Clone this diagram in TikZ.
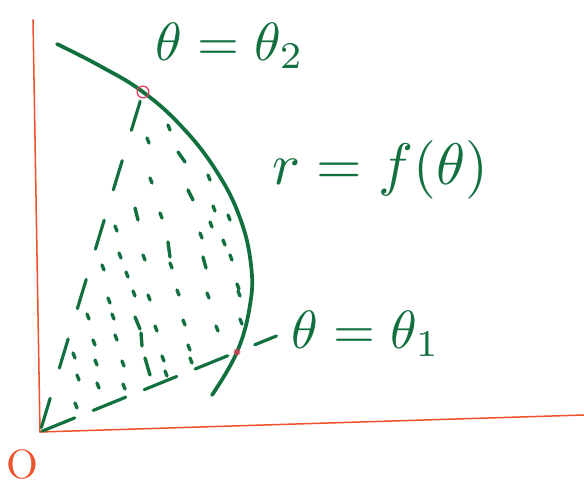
\documentclass[tikz,border=0pt]{standalone}
\usepackage{amsmath}
\usepackage{xcolor}
\usetikzlibrary{arrows.meta,calc,positioning}
\definecolor{penGreen}{RGB}{18,112,62}
\definecolor{axisRed}{RGB}{236,82,44}
\definecolor{markPink}{RGB}{226,62,92}

\begin{document}
\begin{tikzpicture}[x=0.03cm,y=-0.03cm,line cap=round,line join=round,
    axis/.style={axisRed,line width=1.3pt},
    curve/.style={penGreen,line width=3.2pt},
    ray/.style={penGreen,line width=2.7pt},
    speck/.style={penGreen,line width=2.9pt},
    hand/.style={penGreen,inner sep=0pt}]
    \useasboundingbox (0,0) rectangle (584,486);
    % ============ Axes ============
    \coordinate (O)    at (40,432);
    \coordinate (Ytop) at (33,20);
    \coordinate (Xend) at (584,415);
    \draw[axis] (O) -- (Ytop);
    \draw[axis] (O) -- (Xend);
    \node[axisRed,inner sep=0pt,scale=3.5] (Olabel) at (22,464) {O};
    % ============ Points on the curve ============
    \coordinate (P2) at (143,92);
    \coordinate (P1) at (237,352);
    \coordinate (T1a) at ($(O)!1.09!(P1)$);
    \coordinate (T1b) at ($(O)!1.20!(P1)$);
    % ============ Shaded region (pen specks) ============
    \foreach \x/\y in {168/125,147/138,150/178,208/175,160/213,213/206,228/215,
        115/226,210/222,200/233,223/240,143/255,170/263,230/255,
        119/253,102/265,126/272,237/284,238/291,
        108/298,133/291,148/295,177/290,207/293,87/314,112/314,155/326,
        183/320,216/326,240/319,93/340,115/335,188/345,73/353,95/360,
        122/361,162/356,165/371,190/358,77/375,97/383,123/384,75/403}
      \draw[speck] (\x,\y) -- ++(2,5);
    \draw[speck] (178,152) -- (185,162);
    \draw[speck] (188,190) -- (193,200);
    \draw[speck] (135,208) -- (138,220);
    \draw[speck] (168,242) -- (170,257);
    \draw[speck] (203,257) -- (206,268);
    \draw[speck] (135,317) -- (140,329);
    \draw[speck] (141,333) -- (142,346);
    \draw[speck] (145,358) -- (150,375);
    % ============ Rays theta_1 and theta_2 ============
    \draw[ray,dash pattern=on 26pt off 27pt,dash phase=-4pt] (O) -- (P2);
    \draw[ray,dash pattern=on 30pt off 17pt,dash phase=-2pt] (O) -- (P1);
    \draw[ray] (T1a) -- (T1b);
    % ============ Curve r = f(theta) ============
    \draw[curve] plot[smooth,tension=0.7] coordinates {(57,44) (100,66) (143,92)
      (183,128) (217,172) (240,218) (251,265) (250,305) (237,352) (212,395)};
    % ============ Markers ============
    \draw[markPink,line width=1.1pt] (P2) circle (5pt);
    \fill[markPink,opacity=0.7] (P1) circle (3pt);
    % ============ Labels ============
    \node[hand,scale=4.6] (th2label) at (230,46) {$\theta = \theta_2$};
    \node[hand,scale=5.0] (rlabel) at (380,170) {$r = f(\theta)$};
    \node[hand,scale=4.6] (th1label) at (366,334) {$\theta = \theta_1$};
\end{tikzpicture}
\end{document}
